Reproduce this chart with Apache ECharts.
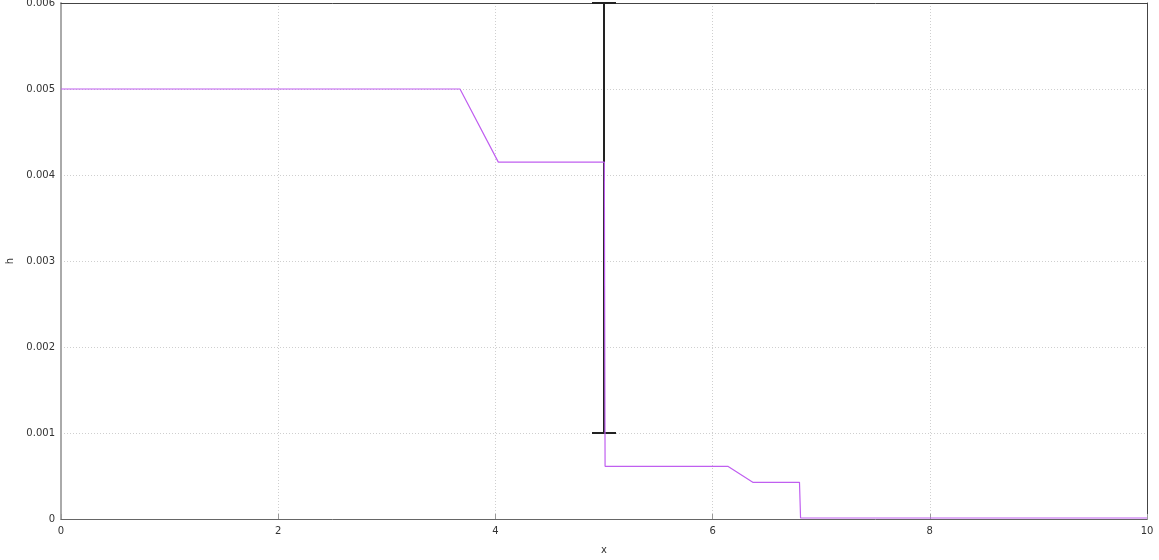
<!DOCTYPE html>
<html>
<head>
<meta charset="utf-8">
<script src="https://cdn.jsdelivr.net/npm/echarts@6/dist/echarts.min.js"></script>
<style>
html,body{margin:0;padding:0;background:#fff;}
#chart{width:1159px;height:560px;}
</style>
</head>
<body>
<div id="chart"></div>
<script>
// line series h(x)
var lineX = [0, 3.674, 4.027, 5.003, 5.01, 6.14, 6.37, 6.80, 6.81, 10];
var lineH = [0.005, 0.005, 0.00415, 0.00415, 0.000613, 0.000613, 0.000427, 0.000427, 0.0000116, 0.0000116];
// error bar
var errX = [5];
var errLow = [0.001];
var errHigh = [0.006];
// ticks
var xTicks = [0, 2, 4, 6, 8, 10];
var yTicks = [0, 0.001, 0.002, 0.003, 0.004, 0.005, 0.006];

var font = 'DejaVu Sans';
var chart = echarts.init(document.getElementById('chart'), null, {renderer: 'canvas'});
var lineData = lineX.map(function (x, i) { return [x, lineH[i]]; });
var errData = errX.map(function (x, i) { return [x, errLow[i], errHigh[i]]; });
var xMin = xTicks[0], xMax = xTicks[xTicks.length - 1];
var yMin = yTicks[0], yMax = yTicks[yTicks.length - 1];
var gridLine = {show: true, lineStyle: {color: '#cfcfcf', type: [1, 2], width: 1}};

chart.setOption({
  animation: false,
  grid: {left: 61, right: 12, top: 3, bottom: 41, containLabel: false, outerBoundsMode: 'none', show: false},
  xAxis: [{
    type: 'value', min: xMin, max: xMax, interval: 2,
    name: 'x', nameLocation: 'middle', nameGap: 26,
    nameTextStyle: {fontFamily: font, fontSize: 10, color: '#333'},
    axisLine: {show: true, lineStyle: {color: '#666', width: 1}},
    axisTick: {show: true, inside: true, length: 5, lineStyle: {color: '#999'}},
    axisLabel: {fontFamily: font, fontSize: 10, color: '#333', margin: 7},
    splitLine: gridLine
  }, {
    type: 'value', position: 'top', min: xMin, max: xMax, interval: 2,
    axisLine: {show: true, onZero: false, lineStyle: {color: '#444', width: 1}},
    axisTick: {show: false}, axisLabel: {show: false}, splitLine: {show: false}
  }],
  yAxis: [{
    type: 'value', min: yMin, max: yMax, interval: 0.001,
    name: 'h', nameLocation: 'middle', nameGap: 40, nameRotate: 90,
    nameTextStyle: {fontFamily: font, fontSize: 10, color: '#333'},
    axisLine: {show: true, lineStyle: {color: '#aaa', width: 2}},
    axisTick: {show: false},
    axisLabel: {fontFamily: font, fontSize: 10, color: '#333', margin: 6,
      formatter: function (v) { return v === 0 ? '0' : v.toFixed(3); }},
    splitLine: gridLine
  }, {
    type: 'value', position: 'right', min: yMin, max: yMax, interval: 0.001,
    axisLine: {show: true, onZero: false, lineStyle: {color: '#444', width: 1}},
    axisTick: {show: false}, axisLabel: {show: false}, splitLine: {show: false}
  }],
  series: [
    {
      type: 'custom',
      data: errData,
      z: 2,
      clip: false,
      renderItem: function (params, api) {
        var x = api.value(0);
        var lo = api.coord([x, api.value(1)]);
        var hi = api.coord([x, api.value(2)]);
        var cw = 12;
        var st = {stroke: '#222', lineWidth: 2};
        return {type: 'group', children: [
          {type: 'line', shape: {x1: lo[0], y1: lo[1], x2: hi[0], y2: hi[1]}, style: st},
          {type: 'line', shape: {x1: lo[0] - cw, y1: lo[1], x2: lo[0] + cw, y2: lo[1]}, style: st},
          {type: 'line', shape: {x1: hi[0] - cw, y1: hi[1], x2: hi[0] + cw, y2: hi[1]}, style: st}
        ]};
      }
    },
    {
      type: 'line',
      data: lineData,
      z: 3,
      symbol: 'none',
      lineStyle: {color: '#c05ff0', width: 1.2}
    }
  ]
});
</script>
</body>
</html>
